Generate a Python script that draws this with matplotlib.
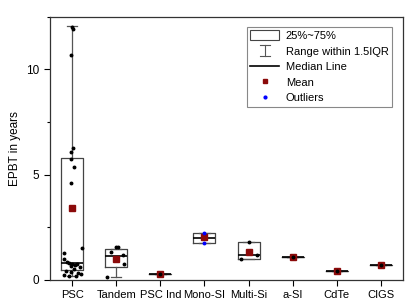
import numpy as np
import matplotlib
matplotlib.use('Agg')
import matplotlib.pyplot as plt
import matplotlib.ticker as tck
from matplotlib.lines import Line2D
from matplotlib.patches import Rectangle
from matplotlib.legend_handler import HandlerBase

plt.rcParams['font.family'] = ['Liberation Sans', 'DejaVu Sans']

labels = ['PSC', 'Tandem', 'PSC Ind', 'Mono-SI', 'Multi-Si', 'a-SI', 'CdTe', 'CIGS']

# box statistics
q1 = [0.46, 0.60, 0.27, 1.76, 1.00, 1.10, 0.42, 0.73]
q3 = [5.79, 1.47, 0.27, 2.23, 1.79, 1.10, 0.42, 0.73]
med = [0.80, 1.15, 0.27, 2.00, 1.18, 1.10, 0.42, 0.73]
mean = [3.40, 1.00, 0.27, 2.02, 1.34, 1.10, 0.42, 0.73]
wlo = [0.17, 0.15, 0.27, 1.76, 1.00, 1.10, 0.42, 0.73]
whi = [12.05, 1.47, 0.27, 2.23, 1.79, 1.10, 0.42, 0.73]

# individual data points (value, horizontal offset in px)
psc_pts = [12.0, 11.9, 10.7, 6.25, 6.1, 5.75, 5.35, 4.6, 1.5, 1.28, 0.99, 0.85,
           0.8, 0.75, 0.7, 0.78, 0.65, 0.62, 0.5, 0.42, 0.39, 0.33, 0.3, 0.22, 0.2, 0.17]
psc_dx = [0, 1, -1, 1, -1, -1, 1.5, -1, 9.5, -8, -8.5, -5,
          -3, 0, 3, 5, -1, 8, 2, -6, -1, 6, 9, -8, -3, 4]
tandem_pts = [1.57, 1.57, 1.31, 1.2, 0.76, 0.16]
tandem_dx = [-0.5, 2, -5, 7, 8, -9]
psc_ind_pts = [0.27]
psc_ind_dx = [0]
mono_pts = [2.25, 1.78]
mono_dx = [0, 0]
multi_pts = [1.79, 1.2, 1.0]
multi_dx = [0, 8, -8]
asi_pts = [1.1]
asi_dx = [0]
cdte_pts = [0.42]
cdte_dx = [0]
cigs_pts = [0.73]
cigs_dx = [0]

points = [psc_pts, tandem_pts, psc_ind_pts, mono_pts, multi_pts, asi_pts, cdte_pts, cigs_pts]
offsets = [psc_dx, tandem_dx, psc_ind_dx, mono_dx, multi_dx, asi_dx, cdte_dx, cigs_dx]
outlier_groups = [3]  # Mono-SI points drawn as outliers


class WhiskerHandler(HandlerBase):
    def create_artists(self, legend, orig_handle, xdescent, ydescent, width, height, fontsize, trans):
        cx = width/2 - xdescent
        y0, y1 = -ydescent - 0.5, height - ydescent + 0.5
        hw = 3.5
        kw = dict(color='#555555', linewidth=0.8, transform=trans)
        return [Line2D([cx, cx], [y0, y1], **kw),
                Line2D([cx-hw, cx+hw], [y0, y0], **kw),
                Line2D([cx-hw, cx+hw], [y1, y1], **kw)]


fig = plt.figure(figsize=(4.11, 3.07), dpi=100)
ax = fig.add_axes([50/411, 1-280/307, 353/411, 263.3/307])

pos = np.arange(1, len(labels)+1)
stats = []
for i in range(len(labels)):
    stats.append(dict(med=med[i], q1=q1[i], q3=q3[i], whislo=wlo[i], whishi=whi[i],
                      mean=mean[i], fliers=[]))

ax.bxp(stats, positions=pos, widths=0.5, capwidths=0.24, showmeans=True, showfliers=False,
       boxprops=dict(color='#444444', linewidth=0.9),
       whiskerprops=dict(color='#555555', linewidth=0.9),
       capprops=dict(color='#555555', linewidth=0.9),
       medianprops=dict(color='black', linewidth=1.2),
       meanprops=dict(marker='s', markerfacecolor='#8B0A0A', markeredgecolor='#8B0A0A',
                      markersize=4.5))

pxunit = 8.0/353
for i, (pts, dx) in enumerate(zip(points, offsets)):
    xs = pos[i] + np.array(dx)*pxunit
    c = 'blue' if i in outlier_groups else 'black'
    ax.plot(xs, pts, 'o', color=c, markersize=1.8, linestyle='none', zorder=4)

ax.set_xlim(0.5, 8.5)
ax.set_ylim(0, 12.5)
ax.set_xticks(pos)
ax.set_xticklabels(labels, fontsize=8)
ax.yaxis.set_major_locator(tck.MultipleLocator(5))
ax.yaxis.set_minor_locator(tck.MultipleLocator(2.5))
ax.tick_params(axis='y', labelsize=8.5, length=4, width=0.8)
ax.tick_params(axis='y', which='minor', length=2.5, width=0.8)
ax.tick_params(axis='x', length=4, width=0.8)
ax.set_ylabel('EPBT in years', fontsize=8.5)
for s in ax.spines.values():
    s.set_linewidth(0.9)
    s.set_color('#333333')

whisker_handle = Line2D([], [])
handles = [Rectangle((0, 0), 1, 1, facecolor='white', edgecolor='#444444', linewidth=0.8),
           whisker_handle,
           Line2D([], [], color='black', linewidth=1.2),
           Line2D([], [], marker='s', color='#8B0A0A', linestyle='none', markersize=3.5),
           Line2D([], [], marker='o', color='blue', linestyle='none', markersize=2)]
names = ['25%~75%', 'Range within 1.5IQR', 'Median Line', 'Mean', 'Outliers']
leg = ax.legend(handles, names, loc='upper right', bbox_to_anchor=(0.969, 0.961),
                borderaxespad=0, fontsize=8, fancybox=False, edgecolor='#888888',
                framealpha=1, handlelength=2.6, handleheight=0.95, labelspacing=0.45,
                borderpad=0.3, handletextpad=0.6,
                handler_map={whisker_handle: WhiskerHandler()})
leg.get_frame().set_linewidth(0.8)

plt.savefig('out.png', dpi=100)
